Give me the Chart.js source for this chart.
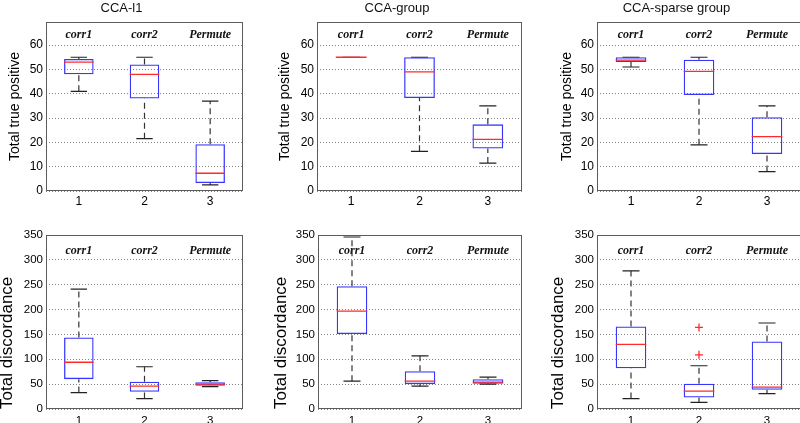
<!DOCTYPE html>
<html>
<head>
<meta charset="utf-8">
<script src="https://cdn.jsdelivr.net/npm/chart.js@4.4.0/dist/chart.umd.min.js"></script>
<style>
  html, body { margin: 0; padding: 0; background: #fff; }
  body { position: relative; width: 800px; height: 423px; overflow: hidden; }
  canvas { position: absolute; }
</style>
</head>
<body>
<canvas id="pA"></canvas>
<canvas id="pB"></canvas>
<canvas id="pC"></canvas>
<canvas id="pD"></canvas>
<canvas id="pE"></canvas>
<canvas id="pF"></canvas>
<script>
/* --- DATA --- */
const positions = [1, 2, 3];
const groupNames = ['corr1', 'corr2', 'Permute'];
const tpTicks = [0, 10, 20, 30, 40, 50, 60];
const discTicks = [0, 50, 100, 150, 200, 250, 300, 350];

// CCA-l1, total true positive
const l1TpLow  = [41, 21.5, 2.5];
const l1TpQ1   = [48, 38, 3.3];
const l1TpMed  = [53, 48, 7.3];
const l1TpQ3   = [54.3, 52, 19.2];
const l1TpHigh = [55, 55, 37];

// CCA-group, total true positive
const grTpLow  = [55, 16.3, 11.5];
const grTpQ1   = [55, 38.2, 17.5];
const grTpMed  = [55, 49, 21.2];
const grTpQ3   = [55, 55, 27.4];
const grTpHigh = [55, 55, 35];

// CCA-sparse group, total true positive
const sgTpLow  = [51, 19, 8];
const sgTpQ1   = [53, 39.5, 15.2];
const sgTpMed  = [53.8, 49.2, 22.4];
const sgTpQ3   = [55, 54, 30.3];
const sgTpHigh = [55, 55, 35];

// CCA-l1, total discordance
const l1DiscLow  = [33, 21, 45];
const l1DiscQ1   = [60, 34.5, 47];
const l1DiscMed  = [94, 46, 50];
const l1DiscQ3   = [144, 55, 54];
const l1DiscHigh = [241, 85, 57];

// CCA-group, total discordance
const grDiscLow  = [56, 46, 50];
const grDiscQ1   = [151, 50, 51];
const grDiscMed  = [197, 56, 54];
const grDiscQ3   = [247, 76, 60];
const grDiscHigh = [346, 107, 64];

// CCA-sparse group, total discordance
const sgDiscLow  = [21, 13.5, 31];
const sgDiscQ1   = [82, 23, 38.5];
const sgDiscMed  = [130, 36, 44];
const sgDiscQ3   = [166, 51, 136];
const sgDiscHigh = [278, 87, 173];
const sgDiscOutX = [2, 2];
const sgDiscOutY = [164, 109];

/* --- STYLE --- */
const SANS = "'Liberation Sans', Arial, sans-serif";
const BOX_HALF = 0.225;
const CAP_HALF = 0.125;
const BLUE = '#3636ff';
const RED = '#ff2b2b';

// group names written inside the top of each plot
const groupLabelPlugin = {
    id: 'groupLabels',
    beforeDatasetsDraw(chart, args, opts) {
        const { ctx, chartArea: { top }, scales: { x } } = chart;
        ctx.save();
        ctx.fillStyle = '#111';
        ctx.font = "italic bold 12px 'Liberation Serif', 'Times New Roman', serif";
        ctx.textAlign = 'center';
        ctx.textBaseline = 'middle';
        opts.names.forEach((n, i) => {
            ctx.fillText(n, x.getPixelForValue(positions[i]), top + opts.offset);
        });
        ctx.restore();
    }
};

// box frame around the plot area
const framePlugin = {
    id: 'frame',
    afterDraw(chart) {
        const { ctx, chartArea: { left, top, right, bottom } } = chart;
        ctx.save();
        ctx.strokeStyle = '#5c5c5c';
        ctx.lineWidth = 1;
        ctx.strokeRect(left + 0.5, top + 0.5, right - left - 1, bottom - top - 1);
        ctx.restore();
    }
};

function makeBoxChart(cfg) {
    const canvas = document.getElementById(cfg.id);
    canvas.width = cfg.w;
    canvas.height = cfg.h;
    canvas.style.left = cfg.x + 'px';
    canvas.style.top = cfg.y + 'px';

    const boxes = positions.map((p, i) => ({ x: p, y: [cfg.q1[i], cfg.q3[i]] }));
    const whiskers = [];
    const caps = [];
    const medians = [];
    positions.forEach((p, i) => {
        whiskers.push({ x: p, y: cfg.q3[i] }, { x: p, y: cfg.high[i] }, { x: p, y: null },
                      { x: p, y: cfg.low[i] }, { x: p, y: cfg.q1[i] }, { x: p, y: null });
        caps.push({ x: p - CAP_HALF, y: cfg.high[i] }, { x: p + CAP_HALF, y: cfg.high[i] }, { x: p, y: null },
                  { x: p - CAP_HALF, y: cfg.low[i] }, { x: p + CAP_HALF, y: cfg.low[i] }, { x: p, y: null });
        medians.push({ x: p - BOX_HALF, y: cfg.med[i] }, { x: p + BOX_HALF, y: cfg.med[i] }, { x: p, y: null });
    });
    const outliers = (cfg.outX || []).map((v, i) => ({ x: v, y: cfg.outY[i] }));

    return new Chart(canvas, {
        type: 'bar',
        data: {
            datasets: [
                {
                    type: 'scatter', data: medians, showLine: true, order: 0,
                    borderColor: RED, borderWidth: 1.3, pointRadius: 0
                },
                {
                    type: 'scatter', data: outliers, order: 1,
                    pointStyle: 'cross', pointRadius: 4, borderColor: RED, borderWidth: 1.3
                },
                {
                    type: 'bar', data: boxes, order: 2,
                    backgroundColor: 'rgba(0,0,0,0)', borderColor: BLUE, borderWidth: 1.3,
                    borderSkipped: false, barPercentage: BOX_HALF * 2, categoryPercentage: 1
                },
                {
                    type: 'scatter', data: caps, showLine: true, order: 3,
                    borderColor: '#222', borderWidth: 1.2, pointRadius: 0
                },
                {
                    type: 'scatter', data: whiskers, showLine: true, order: 4,
                    borderColor: '#333', borderWidth: 1.2, borderDash: [6, 4], pointRadius: 0
                }
            ]
        },
        options: {
            responsive: false,
            animation: false,
            events: [],
            layout: { padding: { left: 0, top: cfg.padTop, right: cfg.padRight, bottom: 0 } },
            plugins: {
                legend: { display: false },
                tooltip: { enabled: false },
                title: {
                    display: !!cfg.title,
                    text: cfg.title,
                    color: '#111',
                    font: { family: SANS, size: 13, weight: 'normal', lineHeight: 1.2 },
                    padding: { top: 0.5, bottom: 5.9 }
                },
                groupLabels: { names: groupNames, offset: cfg.labelOffset }
            },
            scales: {
                x: {
                    type: 'linear', min: 0.5, max: 3.5, offset: false,
                    afterBuildTicks: s => { s.ticks = positions.map(v => ({ value: v })); },
                    afterFit: s => { s.height = cfg.xAxisH; },
                    grid: { display: false, drawTicks: false },
                    border: { display: false },
                    ticks: { padding: cfg.xTickPad, color: '#000', maxRotation: 0,
                             font: { family: SANS, size: cfg.tickSize } }
                },
                y: {
                    type: 'linear', min: 0, max: cfg.yMax,
                    afterBuildTicks: s => { s.ticks = cfg.yTicks.map(v => ({ value: v })); },
                    afterFit: s => { s.width = cfg.plotLeft; },
                    grid: { color: '#858585', lineWidth: 1, drawTicks: false },
                    border: { display: false, dash: [1, 2] },
                    ticks: { padding: 3, color: '#000', font: { family: SANS, size: cfg.tickSize } },
                    title: {
                        display: true, text: cfg.yTitle, color: '#000', align: cfg.yTitleAlign,
                        font: { family: SANS, size: cfg.yTitleSize, lineHeight: 1.2 },
                        padding: { top: cfg.yTitlePad, bottom: 0 }
                    }
                }
            }
        },
        plugins: [groupLabelPlugin, framePlugin]
    });
}

const topRow = { y: 0, h: 210, padTop: 0, xAxisH: 19, xTickPad: 3, tickSize: 12, yMax: 69.5,
                 yTicks: tpTicks, yTitle: 'Total true positive', yTitleSize: 14,
                 yTitleAlign: 'center', labelOffset: 13 };
const bottomRow = { y: 210, h: 213, padTop: 25, xAxisH: 14, xTickPad: 5, tickSize: 11.5, yMax: 350,
                    yTicks: discTicks, yTitle: 'Total discordance', yTitleSize: 17,
                    yTitleAlign: 'start', labelOffset: 16 };

makeBoxChart({ ...topRow, id: 'pA', x: 0, w: 286, plotLeft: 46, padRight: 43, yTitlePad: 6.6,
    title: 'CCA-l1', low: l1TpLow, q1: l1TpQ1, med: l1TpMed, q3: l1TpQ3, high: l1TpHigh });
makeBoxChart({ ...topRow, id: 'pB', x: 272, w: 290, plotLeft: 45, padRight: 40, yTitlePad: 5.1,
    title: 'CCA-group', low: grTpLow, q1: grTpQ1, med: grTpMed, q3: grTpQ3, high: grTpHigh });
makeBoxChart({ ...topRow, id: 'pC', x: 552, w: 288, plotLeft: 45, padRight: 39, yTitlePad: 7.1,
    title: 'CCA-sparse group', low: sgTpLow, q1: sgTpQ1, med: sgTpMed, q3: sgTpQ3, high: sgTpHigh });

makeBoxChart({ ...bottomRow, id: 'pD', x: -8, w: 273, plotLeft: 54, padRight: 22, yTitlePad: 5.5,
    low: l1DiscLow, q1: l1DiscQ1, med: l1DiscMed, q3: l1DiscQ3, high: l1DiscHigh });
makeBoxChart({ ...bottomRow, id: 'pE', x: 262, w: 268, plotLeft: 56, padRight: 8, yTitlePad: 9,
    low: grDiscLow, q1: grDiscQ1, med: grDiscMed, q3: grDiscQ3, high: grDiscHigh });
makeBoxChart({ ...bottomRow, id: 'pF', x: 540, w: 270, plotLeft: 57, padRight: 9, yTitlePad: 8.5,
    low: sgDiscLow, q1: sgDiscQ1, med: sgDiscMed, q3: sgDiscQ3, high: sgDiscHigh,
    outX: sgDiscOutX, outY: sgDiscOutY });
</script>
</body>
</html>
